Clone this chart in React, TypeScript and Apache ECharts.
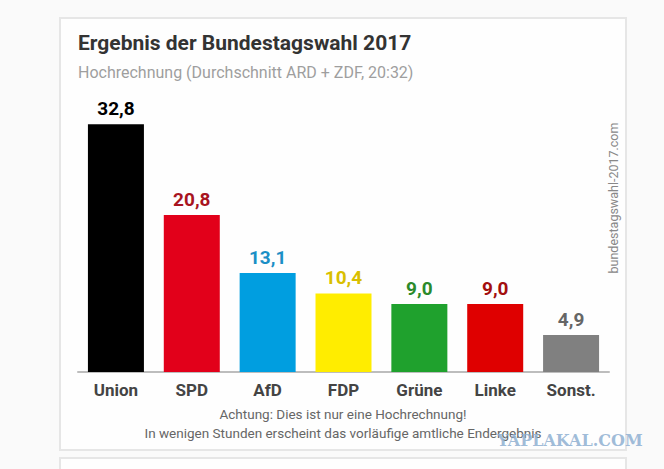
import React, { useEffect, useRef } from "react";
import * as echarts from "echarts";

const categories = ["Union", "SPD", "AfD", "FDP", "Grüne", "Linke", "Sonst."];
const values = [32.8, 20.8, 13.1, 10.4, 9.0, 9.0, 4.9];
const barColors = ["#000000", "#e2001a", "#009ee0", "#ffed00", "#1fa12d", "#df0000", "#808080"];
const labelColors = ["#000000", "#a8141f", "#1b8fc6", "#d9bf00", "#2b8a2b", "#a30f0f", "#666666"];

const titleText = "Ergebnis der Bundestagswahl 2017";
const subtitleText = "Hochrechnung (Durchschnitt ARD + ZDF, 20:32)";
const noteLines = [
  "Achtung: Dies ist nur eine Hochrechnung!",
  "In wenigen Stunden erscheint das vorläufige amtliche Endergebnis",
];
const sourceText = "bundestagswahl-2017.com";
const watermarkText = "YAPLAKAL.COM";

const FONT = "Roboto, 'Noto Sans', sans-serif";

export default function App() {
  const ref = useRef<HTMLDivElement>(null);
  useEffect(() => {
    if (!ref.current) return;
    const chart = echarts.init(ref.current, undefined, { renderer: "svg" });
    chart.setOption({
      animation: false,
      backgroundColor: "#fafafa",
      grid: { left: 78, right: 55, top: 70, bottom: 97, containLabel: false },
      xAxis: {
        type: "category",
        data: categories,
        axisLine: { show: true, lineStyle: { color: "#bdbdbd", width: 2 } },
        axisTick: { show: false },
        axisLabel: {
          color: "#444444",
          fontFamily: FONT,
          fontWeight: "bold",
          fontSize: 17,
          margin: 9,
          interval: 0,
        },
      },
      yAxis: {
        type: "value",
        min: 0,
        max: 40,
        show: false,
        splitLine: { show: false },
      },
      graphic: [
        {
          type: "rect",
          z: -10,
          shape: { x: 60, y: 18, width: 566, height: 432 },
          style: { fill: "#fefefe", stroke: "#e6e6e6", lineWidth: 2 },
        },
        {
          type: "rect",
          z: -10,
          shape: { x: 60, y: 458, width: 566, height: 30 },
          style: { fill: "#fefefe", stroke: "#e6e6e6", lineWidth: 2 },
        },
        {
          type: "text",
          x: 78,
          y: 43,
          style: {
            text: titleText,
            fill: "#333333",
            font: `bold 21px ${FONT}`,
            verticalAlign: "middle",
          },
        },
        {
          type: "text",
          x: 78,
          y: 72,
          style: {
            text: subtitleText,
            fill: "#9e9e9e",
            font: `16px ${FONT}`,
            verticalAlign: "middle",
          },
        },
        {
          type: "text",
          x: 613,
          y: 198,
          rotation: Math.PI / 2,
          style: {
            text: sourceText,
            fill: "#888888",
            font: `12.5px ${FONT}`,
            align: "center",
            verticalAlign: "middle",
          },
        },
        {
          type: "text",
          x: 343,
          y: 414,
          style: {
            text: noteLines[0],
            fill: "#666666",
            font: `13.5px ${FONT}`,
            align: "center",
            verticalAlign: "middle",
          },
        },
        {
          type: "text",
          x: 343,
          y: 433,
          style: {
            text: noteLines[1],
            fill: "#666666",
            font: `13.5px ${FONT}`,
            align: "center",
            verticalAlign: "middle",
          },
        },
        {
          type: "text",
          x: 570,
          y: 440,
          z: 100,
          style: {
            text: watermarkText,
            fill: "#8fb0d2",
            font: `bold 16px 'DejaVu Serif', serif`,
            align: "center",
            verticalAlign: "middle",
            opacity: 0.85,
          },
        },
      ],
      series: [
        {
          type: "bar",
          barWidth: 56,
          data: values.map((v, i) => ({
            value: v,
            itemStyle: { color: barColors[i] },
            label: { color: labelColors[i] },
          })),
          label: {
            show: true,
            position: "top",
            distance: 6,
            fontFamily: FONT,
            fontWeight: "bold",
            fontSize: 19,
            formatter: (p: any) => Number(p.value).toFixed(1).replace(".", ","),
          },
        },
      ],
    });
    return () => chart.dispose();
  }, []);
  return (
    <div
      ref={ref}
      style={{ position: "fixed", left: 0, top: 0, width: 664, height: 469 }}
    />
  );
}
